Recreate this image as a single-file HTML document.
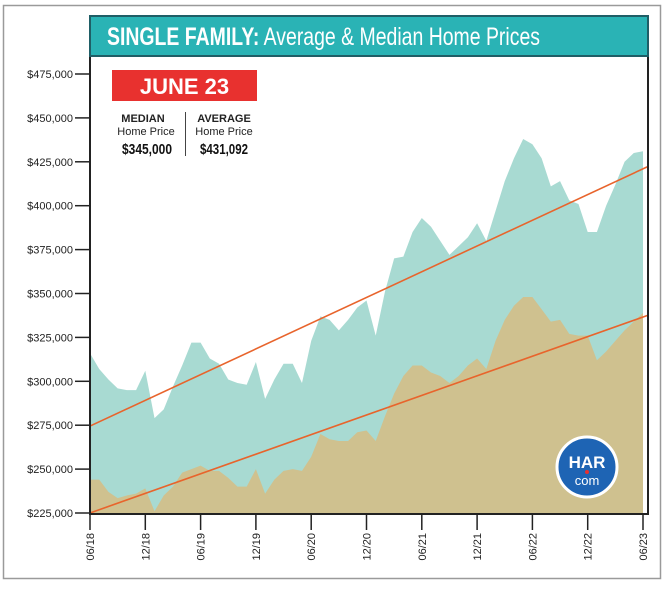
<!DOCTYPE html>
<html><head><meta charset="utf-8"><style>
body{margin:0;background:#fff;}
svg text{font-family:"Liberation Sans",sans-serif;}
</style></head><body>
<svg id="c" width="668" height="584" viewBox="0 0 668 584">
<rect x="3.5" y="5.5" width="657" height="573" fill="#fff" stroke="#9a9a9a" stroke-width="1.5"/>
<g id="areas"></g>
<g id="trends"></g>
<rect x="90" y="16" width="558" height="498" fill="none" stroke="#222" stroke-width="2"/>
<rect x="90" y="16" width="558" height="40" fill="#2ab3b5" stroke="#1f5e66" stroke-width="2"/>
<text x="107" y="45" fill="#fff" font-size="25" textLength="433" lengthAdjust="spacingAndGlyphs"><tspan font-weight="bold">SINGLE FAMILY:</tspan> Average &amp; Median Home Prices</text>
<rect x="112" y="70" width="145" height="31" fill="#e8312f"/>
<text x="184.5" y="94" fill="#fff" font-size="22" font-weight="bold" text-anchor="middle">JUNE 23</text>
<text x="143" y="122" font-size="11" font-weight="bold" text-anchor="middle" fill="#222">MEDIAN</text>
<text x="146" y="135" font-size="11" text-anchor="middle" fill="#222">Home Price</text>
<text x="122" y="154" font-size="15" font-weight="bold" fill="#111" textLength="50" lengthAdjust="spacingAndGlyphs">$345,000</text>
<line x1="185.5" y1="112" x2="185.5" y2="156" stroke="#444" stroke-width="1"/>
<text x="224" y="122" font-size="11" font-weight="bold" text-anchor="middle" fill="#222">AVERAGE</text>
<text x="224" y="135" font-size="11" text-anchor="middle" fill="#222">Home Price</text>
<text x="200" y="154" font-size="15" font-weight="bold" fill="#111" textLength="48" lengthAdjust="spacingAndGlyphs">$431,092</text>
<g id="yaxis"></g><g id="xaxis"></g>
<g>
<circle cx="587" cy="467" r="30" fill="#1e64b4" stroke="#fff" stroke-width="3"/>
<text x="587" y="468" font-size="17" font-weight="bold" fill="#fff" text-anchor="middle">HAR</text>
<circle cx="587" cy="472" r="2" fill="#e8312f"/>
<text x="587" y="485" font-size="13" fill="#fff" text-anchor="middle">com</text>
</g>
</svg>
<script>
const averagePrices=[316,307,301,296,295,295,306,279,284,297,309,322,322,313,310,301,299,298,311,290,301,310,310,299,323,337,335,329,335,342,346,326,351,370,371,385,393,388,380,372,377,382,390,380,397,414,427,438,435,427,411,414,403,401,385,385,400,412,425,430,431];
const medianPrices=[244,244,237,233.5,235,236,239,226,235,240,248,250,252,249,249,245,240,240,250,236,244,249,250,249,257,270,267,266,266,271,272,266,280,293,303,309,309,305,303,299,303,309,313,307,323,335,343,348,348,341,334,335,327,326,326,312,317,323,329,334,339];
const averageTrend=[274.5,421];
const medianTrend=[225,336.6];
const yTicks=[225000,250000,275000,300000,325000,350000,375000,400000,425000,450000,475000];
const xTickLabels=["06/18","12/18","06/19","12/19","06/20","12/20","06/21","12/21","06/22","12/22","06/23"];
const NS="http://www.w3.org/2000/svg";
const X0=90,X1=643,Y0=513,Ymin=225,Ymax=475,YTOP=74;
function x(i){return X0+(X1-X0)*i/(averagePrices.length-1);}
function y(v){return Y0-(v-Ymin)/(Ymax-Ymin)*(Y0-YTOP);}
function mk(t,a,p){const e=document.createElementNS(NS,t);for(const k in a)e.setAttribute(k,a[k]);p.appendChild(e);return e;}
const areas=document.getElementById('areas');
function area(vals,fill,name){let d=`M${x(0)},${Y0}`;vals.forEach((v,i)=>d+=`L${x(i)},${y(v)}`);d+=`L${x(vals.length-1)},${Y0}Z`;
const p=mk('path',{d:d,fill:fill},areas);

}
area(averagePrices,'#a8dad2','average-price-area');
area(medianPrices,'#cfc18f','median-price-area');
const tr=document.getElementById('trends');
[[averageTrend,'average-trend-line'],[medianTrend,'median-trend-line']].forEach(([t,n])=>{
const l=mk('line',{x1:X0,y1:y(t[0]),x2:X1+5,y2:y(t[0]+(t[1]-t[0])*(X1+5-X0)/(X1-X0)),stroke:'#e8642c','stroke-width':1.6},tr);

});
const ya=document.getElementById('yaxis');
yTicks.forEach(v=>{const yy=y(v/1000);
const l=mk('line',{x1:75,y1:yy,x2:89,y2:yy,stroke:'#222','stroke-width':1.5},ya);


const t=mk('text',{x:73,y:yy+4,'font-size':11,'text-anchor':'end',fill:'#222'},ya);
t.textContent='$'+v.toLocaleString('en-US');

});
const xa=document.getElementById('xaxis');
xTickLabels.forEach((s,i)=>{const xx=x(i*6);
const l=mk('line',{x1:xx,y1:515,x2:xx,y2:530,stroke:'#222','stroke-width':1.5},xa);


const t=mk('text',{x:0,y:0,'font-size':11,'text-anchor':'end',fill:'#222',transform:`translate(${xx+4},533) rotate(-90)`},xa);
t.textContent=s;

});
</script>
</body></html>
